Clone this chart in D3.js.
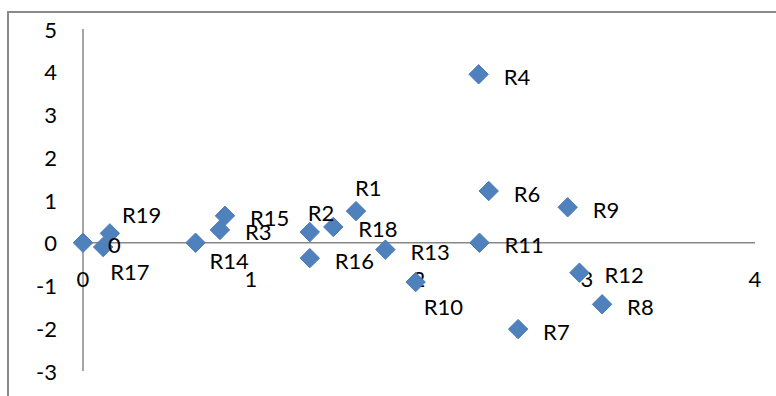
<!DOCTYPE html>
<html>
<head>
<meta charset="utf-8">
<script src="https://cdn.jsdelivr.net/npm/d3@7"></script>
<style>
  html, body { margin: 0; padding: 0; background: #fff; }
  svg { display: block; }
  text { font-family: Lato, "Open Sans", sans-serif; fill: #000; }
</style>
</head>
<body>
<svg id="chart" width="776" height="396"></svg>
<script>
// ---- data ----
const labels = ["0","R17","R19","R14","R3","R15","R2","R16","R18","R1","R13","R10","R11","R4","R6","R7","R9","R12","R8"];
const xValues = [0, 0.12, 0.16, 0.67, 0.815, 0.845, 1.35, 1.35, 1.49, 1.625, 1.80, 1.98, 2.36, 2.355, 2.415, 2.59, 2.885, 2.955, 3.09];
const yValues = [0, -0.10, 0.22, 0, 0.30, 0.63, 0.25, -0.36, 0.37, 0.74, -0.16, -0.92, 0, 3.94, 1.21, -2.02, 0.83, -0.70, -1.44];
const xTicks = [0, 1, 2, 3, 4];
const yTicks = [-3, -2, -1, 0, 1, 2, 3, 4, 5];

// ---- label placement (pixel offsets from marker) ----
const defaultOffset = [25, 2];
const labelOffsets = {
  "R1": [-1, -24], "R2": [-2, -20], "R17": [7, 24], "R19": [12, -19],
  "R14": [14, 18], "R10": [8, 24]
};

const svg = d3.select("#chart");
const x = d3.scaleLinear().domain([0, 4]).range([83, 755]);
const y = d3.scaleLinear().domain([-3, 5]).range([371, 29]);

// chart border (left + top visible)
svg.append("rect").attr("x", 8).attr("y", 12).attr("width", 800).attr("height", 420)
  .attr("fill", "none").attr("stroke", "#8a8a8a").attr("stroke-width", 2);

// axes lines
svg.append("line").attr("x1", x(0)).attr("x2", x(0)).attr("y1", y(5)).attr("y2", y(-3))
  .attr("stroke", "#888").attr("stroke-width", 1.5);
svg.append("line").attr("x1", x(0)).attr("x2", x(4)).attr("y1", y(0)).attr("y2", y(0))
  .attr("stroke", "#888").attr("stroke-width", 1.5);

// y tick labels
svg.append("g").selectAll("text").data(yTicks).join("text")
  .attr("x", 57).attr("y", d => y(d))
  .attr("text-anchor", "end").attr("dominant-baseline", "central")
  .attr("font-size", 22).text(d => d);

// x tick labels
svg.append("g").selectAll("text").data(xTicks).join("text")
  .attr("x", d => x(d)).attr("y", y(0) + 36)
  .attr("text-anchor", "middle").attr("dominant-baseline", "central")
  .attr("font-size", 22).text(d => d);

const pts = labels.map((l, i) => ({ label: l, x: xValues[i], y: yValues[i] }));

// markers
const diamond = d3.symbol().type(d3.symbolDiamond2).size(240);
svg.append("g").selectAll("path").data(pts).join("path")
  .attr("d", diamond)
  .attr("transform", d => `translate(${x(d.x)},${y(d.y)})`)
  .attr("fill", "#4f81bd").attr("stroke", "#4a7ab4").attr("stroke-width", 1);

// data labels
svg.append("g").selectAll("text").data(pts).join("text")
  .attr("x", d => x(d.x) + (labelOffsets[d.label] || defaultOffset)[0])
  .attr("y", d => y(d.y) + (labelOffsets[d.label] || defaultOffset)[1])
  .attr("dominant-baseline", "central")
  .attr("font-size", 22).text(d => d.label);
</script>
</body>
</html>
